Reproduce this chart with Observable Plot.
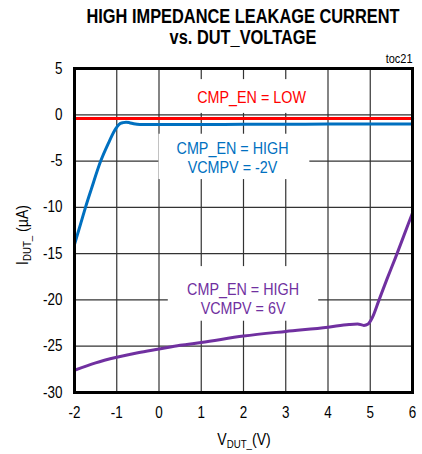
<!DOCTYPE html>
<html><head><meta charset="utf-8">
<script src="https://cdn.jsdelivr.net/npm/d3@7"></script>
<script src="https://cdn.jsdelivr.net/npm/@observablehq/plot@0.6"></script>
<style>
body{margin:0;background:#fff;}
#wrap{position:relative;width:422px;height:454px;font-family:"Liberation Sans",Arial,sans-serif;}
#title{position:absolute;left:43px;width:400px;top:6px;text-align:center;font-weight:bold;font-size:19.5px;line-height:21px;color:#000;white-space:nowrap;transform:scaleX(0.84);transform-origin:50% 50%;}
#toc{position:absolute;right:9px;top:52px;font-size:12.5px;color:#000;transform:scaleX(0.88);transform-origin:100% 50%;}
#ylab{position:absolute;left:23px;top:235px;transform:translate(-50%,-50%) rotate(-90deg) scaleX(0.88);white-space:nowrap;font-size:16px;}
#xlab{position:absolute;left:244px;top:440px;transform:translate(-50%,-50%) scaleX(0.88);white-space:nowrap;font-size:16px;}
sub{font-size:11px;vertical-align:-3px;}
</style></head>
<body>
<div id="wrap">
<div id="chart"></div>
<div id="title">HIGH IMPEDANCE LEAKAGE CURRENT<br>vs. DUT_VOLTAGE</div>
<div id="toc">toc21</div>
<div id="ylab">I<sub>DUT_</sub> (µA)</div>
<div id="xlab">V<sub>DUT_</sub>(V)</div>
</div>
<script>
const xTicks = [-2,-1,0,1,2,3,4,5,6];
const yTicks = [5,0,-5,-10,-15,-20,-25,-30];

const lowX = [-2, 6];
const lowY = [-0.4, -0.4];

const highNegX = [-2, -1.85, -1.74, -1.6, -1.38, -1.2, -1.05, -0.95, -0.85, -0.78, -0.7, -0.6, -0.45, -0.3, 0, 1, 2, 3, 4, 5, 6];
const highNegY = [-14, -11.7, -10, -8, -5, -3.1, -1.7, -1.05, -0.85, -0.8, -0.85, -0.97, -1.05, -1.05, -1.05, -1.05, -1.03, -1.02, -1.0, -1.0, -1.0];

const highPosX = [-2, -1.5, -1, -0.5, 0, 0.5, 1, 2, 3, 4, 4.5, 4.7, 4.85, 4.95, 5.05, 5.2, 5.4, 5.6, 5.8, 6];
const highPosY = [-27.6, -26.8, -26.2, -25.7, -25.3, -24.9, -24.6, -23.9, -23.4, -22.95, -22.65, -22.6, -22.75, -22.6, -21.9, -20.1, -17.7, -15.4, -13.0, -10.6];

const seriesNames = ["low", "highNeg", "highPos"];
const seriesColors = ["#ff0000", "#0070c0", "#7030a0"];
const labelTexts = ["CMP_EN = LOW", "CMP_EN = HIGH\nVCMPV = -2V", "CMP_EN = HIGH\nVCMPV = 6V"];
const labelX = [2.19, 1.74, 1.99];
const labelY = [2.0, -4.6, -19.8];
const boxX1 = [0.3, 0.0, 0.22];
const boxX2 = [3.8, 3.57, 3.78];
const boxY1 = [3.8, -2.1, -16.4];
const boxY2 = [0.15, -7.0, -22.3];

const toPts = (xs, ys, s) => xs.map((x, i) => ({x, y: ys[i], s}));
const pts = [
  ...toPts(lowX, lowY, "low"),
  ...toPts(highNegX, highNegY, "highNeg"),
  ...toPts(highPosX, highPosY, "highPos")
];
const labels = labelTexts.map((t, i) => ({t, x: labelX[i], y: labelY[i], s: seriesNames[i], x1: boxX1[i], x2: boxX2[i], y1: boxY1[i], y2: boxY2[i]}));

const chart = Plot.plot({
  width: 422, height: 454,
  marginTop: 68, marginLeft: 74, marginRight: 10, marginBottom: 62,
  style: {fontFamily: '"Liberation Sans",Arial,sans-serif', fontSize: "16px", color: "#000", background: "#fff"},
  x: {domain: [-2, 6], ticks: xTicks, tickSize: 0, tickPadding: 14, label: null, tickFormat: d => String(d)},
  y: {domain: [-30, 5], ticks: yTicks, tickSize: 0, tickPadding: 12, label: null, tickFormat: d => String(d)},
  color: {domain: seriesNames, range: seriesColors},
  marks: [
    Plot.gridX(xTicks, {stroke: "#333", strokeOpacity: 1, strokeWidth: 1.2}),
    Plot.gridY(yTicks, {stroke: "#333", strokeOpacity: 1, strokeWidth: 1.2}),
    Plot.rect(labels, {x1: "x1", x2: "x2", y1: "y1", y2: "y2", fill: "#fff"}),
    Plot.line(pts, {x: "x", y: "y", z: "s", stroke: "s", strokeWidth: 3, curve: "monotone-x"}),
    Plot.text(labels, {x: "x", y: "y", text: "t", fill: "s", fontSize: 16.3, lineHeight: 1.2, className: "lbl"}),
    Plot.frame({stroke: "#000", strokeWidth: 3})
  ]
});
document.getElementById("chart").appendChild(chart);

// condense text horizontally (narrow-font look)
function condense(el, s) {
  const bb = el.getBBox();
  const anchor = getComputedStyle(el).textAnchor;
  const cx = anchor === "end" ? bb.x + bb.width : anchor === "start" ? bb.x : bb.x + bb.width / 2;
  const old = el.getAttribute("transform") || "";
  el.setAttribute("transform", `${old} translate(${cx},0) scale(${s},1) translate(${-cx},0)`);
}
chart.querySelectorAll("g[aria-label='x-axis tick label'] text, g[aria-label='y-axis tick label'] text").forEach(el => condense(el, 0.84));
chart.querySelectorAll(".lbl text, g.lbl text").forEach(el => condense(el, 0.88));
</script>
</body></html>
